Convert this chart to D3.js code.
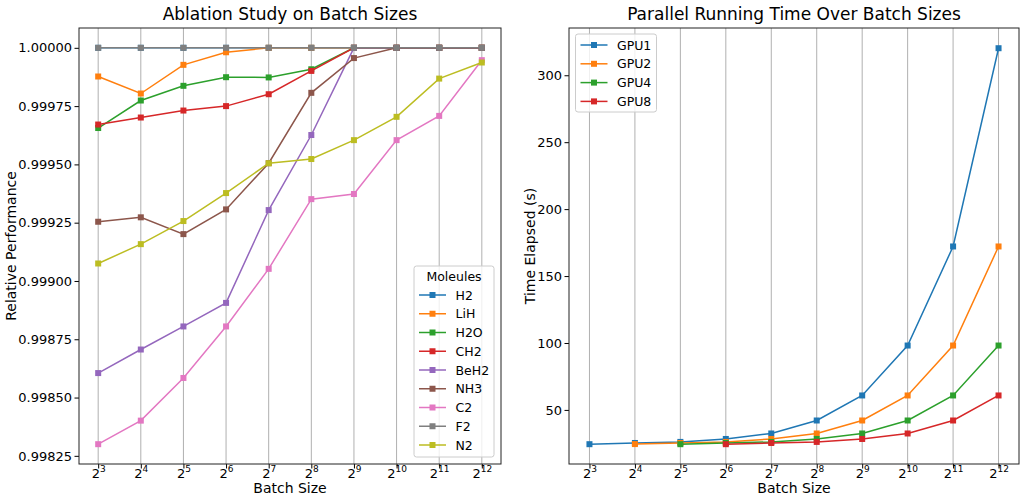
<!DOCTYPE html>
<html>
<head>
<meta charset="utf-8">
<script src="https://cdn.jsdelivr.net/npm/d3@7"></script>
<style>
html,body{margin:0;padding:0;background:#fff;}
svg{display:block;font-family:"DejaVu Sans",sans-serif;}
</style>
</head>
<body>
<svg id="chart" width="1020" height="494"></svg>
<script>
// ---------- data ----------
const exponents = [3, 4, 5, 6, 7, 8, 9, 10, 11, 12];

const moleculeNames = ["H2", "LiH", "H2O", "CH2", "BeH2", "NH3", "C2", "F2", "N2"];
const H2   = [1.0, 1.0, 1.0, 1.0, 1.0, 1.0, 1.0, 1.0, 1.0, 1.0];
const LiH  = [0.999877, 0.999804, 0.999927, 0.999981, 1.0, 1.0, 1.0, 1.0, 1.0, 1.0];
const H2O  = [0.999656, 0.999774, 0.999837, 0.999874, 0.999873, 0.999908, 1.0, 1.0, 1.0, 1.0];
const CH2  = [0.999671, 0.999701, 0.999731, 0.999750, 0.999801, 0.999901, 1.0, 1.0, 1.0, 1.0];
const BeH2 = [0.998605, 0.998706, 0.998805, 0.998906, 0.999304, 0.999626, 1.0, 1.0, 1.0, 1.0];
const NH3  = [0.999254, 0.999273, 0.999201, 0.999307, 0.999505, 0.999807, 0.999956, 1.0, 1.0, 1.0];
const C2   = [0.998300, 0.998401, 0.998584, 0.998805, 0.999052, 0.999351, 0.999373, 0.999604, 0.999708, 0.999947];
const F2   = [1.0, 1.0, 1.0, 1.0, 1.0, 1.0, 1.0, 1.0, 1.0, 1.0];
const N2   = [0.999075, 0.999158, 0.999257, 0.999377, 0.999505, 0.999523, 0.999604, 0.999704, 0.999868, 0.999937];
const moleculeValues = [H2, LiH, H2O, CH2, BeH2, NH3, C2, F2, N2];

const gpuNames = ["GPU1", "GPU2", "GPU4", "GPU8"];
const GPU1 = [24.4, 25.3, 26.1, 28.3, 32.4, 42.1, 60.8, 98.1, 172.1, 320.2];
const GPU2 = [null, 24.5, 25.3, 26.1, 28.3, 32.4, 42.1, 60.8, 98.1, 172.1];
const GPU4 = [null, null, 24.4, 25.3, 26.1, 28.3, 32.4, 42.1, 60.8, 98.1];
const GPU8 = [null, null, null, 24.4, 25.3, 26.1, 28.3, 32.4, 42.1, 60.8];
const gpuValues = [GPU1, GPU2, GPU4, GPU8];

const leftYTicks = [0.99825, 0.99850, 0.99875, 0.99900, 0.99925, 0.99950, 0.99975, 1.00000];
const rightYTicks = [50, 100, 150, 200, 250, 300];

const colors = ["#1f77b4", "#ff7f0e", "#2ca02c", "#d62728", "#9467bd", "#8c564b", "#e377c2", "#7f7f7f", "#bcbd22"];

// ---------- drawing ----------
const svg = d3.select("#chart");

function panel(opts) {
  const {x0, x1, y0, y1, yDomain, yTicks, yFmt, names, values, title, xLabel, yLabel, yLabelX, legend} = opts;
  const g = svg.append("g");
  const x = d3.scaleLinear().domain([2.55, 12.45]).range([x0, x1]);
  const y = d3.scaleLinear().domain(yDomain).range([y1, y0]);

  // vertical grid
  g.append("g").selectAll("line").data(exponents).join("line")
    .attr("x1", d => x(d)).attr("x2", d => x(d))
    .attr("y1", y0).attr("y2", y1)
    .attr("stroke", "#b0b0b0").attr("stroke-width", 1);

  // x axis
  const xAxis = d3.axisBottom(x).tickValues(exponents).tickSize(4.5).tickPadding(3).tickFormat("");
  const xa = g.append("g").attr("transform", `translate(0,${y1})`).call(xAxis);
  xa.select(".domain").remove();
  xa.selectAll(".tick line").attr("stroke", "#000").attr("stroke-width", 1);
  xa.selectAll(".tick").each(function(d) {
    const t = d3.select(this).append("text")
      .attr("y", 14.3).attr("text-anchor", "middle")
      .attr("fill", "#000").attr("font-size", 13).attr("font-family", "DejaVu Sans, sans-serif");
    t.append("tspan").text("2");
    t.append("tspan").attr("font-size", 9).attr("dy", -6).text(String(d));
  });

  // y axis
  const yAxis = d3.axisLeft(y).tickValues(yTicks).tickSize(4.5).tickPadding(2.5).tickFormat(yFmt);
  const ya = g.append("g").attr("transform", `translate(${x0},0)`).call(yAxis);
  ya.select(".domain").remove();
  ya.selectAll(".tick line").attr("stroke", "#000").attr("stroke-width", 1);
  ya.selectAll(".tick text").attr("fill", "#000").attr("font-size", 13)
    .attr("font-family", "DejaVu Sans, sans-serif");

  // series
  const clipId = "clip" + Math.round(x0);
  svg.append("defs").append("clipPath").attr("id", clipId)
    .append("rect").attr("x", x0).attr("y", y0).attr("width", x1 - x0).attr("height", y1 - y0);
  const plot = g.append("g").attr("clip-path", `url(#${clipId})`);
  const line = d3.line().defined(d => d.v != null).x(d => x(d.e)).y(d => y(d.v));
  values.forEach((vals, i) => {
    const pts = exponents.map((e, j) => ({e, v: vals[j]}));
    const sg = plot.append("g");
    sg.append("path").datum(pts).attr("d", line)
      .attr("fill", "none").attr("stroke", colors[i]).attr("stroke-width", 1.5);
    sg.selectAll("rect").data(pts.filter(p => p.v != null)).join("rect")
      .attr("x", p => x(p.e) - 3).attr("y", p => y(p.v) - 3)
      .attr("width", 6).attr("height", 6).attr("fill", colors[i]);
  });

  // frame
  g.append("rect").attr("x", x0).attr("y", y0).attr("width", x1 - x0).attr("height", y1 - y0)
    .attr("fill", "none").attr("stroke", "#222").attr("stroke-width", 1);

  // title
  g.append("text").attr("x", (x0 + x1) / 2).attr("y", 20).attr("text-anchor", "middle")
    .attr("font-size", 17).attr("fill", "#000").text(title);
  // x label
  g.append("text").attr("x", (x0 + x1) / 2).attr("y", 492.5).attr("text-anchor", "middle")
    .attr("font-size", 14).attr("fill", "#000").text(xLabel);
  // y label
  g.append("text").attr("transform", `translate(${yLabelX},${(y0 + y1) / 2}) rotate(-90)`)
    .attr("text-anchor", "middle").attr("font-size", 14).attr("fill", "#000").text(yLabel);

  // legend
  const L = legend;
  const lg = g.append("g");
  lg.append("rect").attr("x", L.x).attr("y", L.y).attr("width", L.w).attr("height", L.h)
    .attr("rx", 2.5).attr("fill", "#fff").attr("fill-opacity", 0.8)
    .attr("stroke", "#cccccc").attr("stroke-width", 1);
  if (L.title) {
    lg.append("text").attr("x", L.x + L.w / 2).attr("y", L.titleY).attr("text-anchor", "middle")
      .attr("font-size", 12.5).attr("fill", "#000").text(L.title);
  }
  names.forEach((n, i) => {
    const yy = L.firstY + i * L.step;
    lg.append("line").attr("x1", L.x + 5).attr("x2", L.x + 32).attr("y1", yy).attr("y2", yy)
      .attr("stroke", colors[i]).attr("stroke-width", 1.5);
    lg.append("rect").attr("x", L.x + 18.5 - 3).attr("y", yy - 3).attr("width", 6).attr("height", 6)
      .attr("fill", colors[i]);
    lg.append("text").attr("x", L.x + 41.5).attr("y", yy + 4.5)
      .attr("font-size", 12.5).attr("fill", "#000").text(n);
  });
}

panel({
  x0: 79, x1: 501, y0: 28, y1: 464,
  yDomain: [0.998215, 1.000085], yTicks: leftYTicks, yFmt: d3.format(".5f"),
  names: moleculeNames, values: moleculeValues,
  title: "Ablation Study on Batch Sizes", xLabel: "Batch Size", yLabel: "Relative Performance", yLabelX: 16,
  legend: {x: 414, y: 266, w: 80, h: 191, title: "Moleules", titleY: 281, firstY: 295, step: 18.75}
});

panel({
  x0: 569, x1: 1019, y0: 28, y1: 464,
  yDomain: [9.6, 335.3], yTicks: rightYTicks, yFmt: d3.format("d"),
  names: gpuNames, values: gpuValues,
  title: "Parallel Running Time Over Batch Sizes", xLabel: "Batch Size", yLabel: "Time Elapsed (s)", yLabelX: 535,
  legend: {x: 575.5, y: 34, w: 81, h: 78, title: null, titleY: 0, firstY: 45, step: 18.8}
});
</script>
</body>
</html>
